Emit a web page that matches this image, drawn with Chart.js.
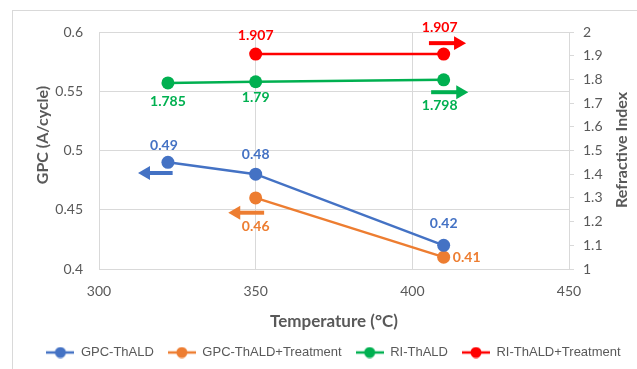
<!DOCTYPE html>
<html>
<head>
<meta charset="utf-8">
<script src="https://cdn.jsdelivr.net/npm/chart.js@4.4.0/dist/chart.umd.min.js"></script>
<style>
  html, body { margin: 0; padding: 0; background: #fff; }
  #wrap { width: 637px; height: 369px; }
</style>
</head>
<body>
<div id="wrap"><canvas id="myChart"></canvas></div>
<script>
// data
const tempGpc = [322, 350, 410];
const gpcThald = [0.49, 0.48, 0.42];
const tempGpcTreat = [350, 410];
const gpcThaldTreat = [0.46, 0.41];
const tempRi = [322, 350, 410];
const riThald = [1.785, 1.79, 1.798];
const tempRiTreat = [350, 410];
const riThaldTreat = [1.907, 1.907];

const tempTicks = [300, 350, 400, 450];
const gpcTicks = [0.4, 0.45, 0.5, 0.55, 0.6];
const riTicks = [1, 1.1, 1.2, 1.3, 1.4, 1.5, 1.6, 1.7, 1.8, 1.9, 2];

// arrows pointing at the axis each series belongs to
const arrowBlueX = [323.5, 315];
const arrowBlueY = [0.481, 0.481];
const arrowOrangeX = [352.7, 343.8];
const arrowOrangeY = [0.4475, 0.4475];
const arrowRedX = [405.3, 414.6];
const arrowRedY = [1.953, 1.953];
const arrowGreenX = [406, 415.3];
const arrowGreenY = [1.746, 1.746];

const blue = "#4472C4", orange = "#ED7D31", green = "#00B050", red = "#FF0000";
const gray = "#595959";

const pts = (xs, ys) => xs.map((x, i) => ({x: x, y: ys[i]}));

function series(label, xs, ys, color, axis, offsets) {
  return {
    label: label,
    data: pts(xs, ys),
    yAxisID: axis,
    borderColor: color,
    backgroundColor: color,
    borderWidth: 2.5,
    pointRadius: 6.5,
    pointHoverRadius: 6.5,
    pointBorderWidth: 0,
    labelOffsets: offsets,
    labelColor: color
  };
}

function arrow(xs, ys, color, axis, rot) {
  return {
    label: "",
    isArrow: true,
    data: pts(xs, ys),
    yAxisID: axis,
    borderColor: color,
    backgroundColor: color,
    borderWidth: 4,
    pointRadius: [0, 8],
    pointStyle: "triangle",
    rotation: rot,
    pointBorderWidth: 0
  };
}

// legend marker: short line with a dot
function marker(color) {
  const c = document.createElement("canvas");
  c.width = 28; c.height = 12;
  const g = c.getContext("2d");
  g.strokeStyle = color; g.lineWidth = 2.5;
  g.beginPath(); g.moveTo(0, 6); g.lineTo(28, 6); g.stroke();
  g.fillStyle = color;
  g.beginPath(); g.arc(14, 6, 5.5, 0, Math.PI * 2); g.fill();
  return c;
}

const valueLabels = {
  id: "valueLabels",
  afterDatasetsDraw(chart) {
    const ctx = chart.ctx;
    ctx.save();
    ctx.font = "bold 14px Lato";
    ctx.textAlign = "center";
    ctx.textBaseline = "middle";
    chart.data.datasets.forEach((ds, i) => {
      if (ds.isArrow) return;
      const meta = chart.getDatasetMeta(i);
      ctx.fillStyle = ds.labelColor;
      meta.data.forEach((p, j) => {
        const off = ds.labelOffsets[j];
        ctx.fillText(String(ds.data[j].y), p.x + off[0], p.y + off[1]);
      });
    });
    ctx.restore();
  }
};

const frame = {
  id: "frame",
  beforeDraw(chart) {
    const ctx = chart.ctx;
    ctx.save();
    ctx.strokeStyle = "#d9d9d9";
    ctx.lineWidth = 1;
    ctx.strokeRect(12.5, 10.5, 700, 400);
    ctx.restore();
  },
  afterDraw(chart) {
    const ctx = chart.ctx;
    const a = chart.chartArea;
    ctx.save();
    ctx.fillStyle = gray;
    ctx.font = "bold 17px Lato";
    ctx.textAlign = "center";
    ctx.textBaseline = "middle";
    ctx.fillText("Temperature (°C)", (a.left + a.right) / 2, 322);
    ctx.font = "bold 16px Lato";
    ctx.translate(43, 135);
    ctx.rotate(-Math.PI / 2);
    ctx.fillText("GPC (A/cycle)", 0, 0);
    ctx.restore();
    ctx.save();
    ctx.fillStyle = gray;
    ctx.font = "bold 16px Lato";
    ctx.textAlign = "center";
    ctx.textBaseline = "middle";
    ctx.translate(622, 150);
    ctx.rotate(-Math.PI / 2);
    ctx.fillText("Refractive Index", 0, 0);
    ctx.restore();
  }
};

const ctx = document.getElementById("myChart");

new Chart(ctx, {
  type: "line",
  data: {
    datasets: [
      series("GPC-ThALD", tempGpc, gpcThald, blue, "y", [[-4, -17], [0, -20], [0, -22]]),
      series("GPC-ThALD+Treatment", tempGpcTreat, gpcThaldTreat, orange, "y", [[0, 29], [23, 0]]),
      series("RI-ThALD", tempRi, riThald, green, "y1", [[0, 19], [0, 16], [-4, 26]]),
      series("RI-ThALD+Treatment", tempRiTreat, riThaldTreat, red, "y1", [[0, -19], [-4, -27]]),
      arrow(arrowBlueX, arrowBlueY, blue, "y", -90),
      arrow(arrowOrangeX, arrowOrangeY, orange, "y", -90),
      arrow(arrowRedX, arrowRedY, red, "y1", 90),
      arrow(arrowGreenX, arrowGreenY, green, "y1", 90)
    ]
  },
  options: {
    responsive: true,
    maintainAspectRatio: false,
    animation: false,
    layout: {padding: {left: 30, top: 32, right: 0, bottom: 0}},
    scales: {
      x: {
        type: "linear",
        min: 300,
        max: 450,
        afterBuildTicks: s => { s.ticks = tempTicks.map(v => ({value: v})); },
        afterFit: s => { s.height = 63; },
        grid: {color: "#d9d9d9", drawTicks: false},
        border: {color: "#d9d9d9"},
        ticks: {color: gray, font: {family: "Lato", size: 14}, padding: 14}
      },
      y: {
        position: "left",
        min: 0.4,
        max: 0.6,
        afterBuildTicks: s => { s.ticks = gpcTicks.map(v => ({value: v})); },
        afterFit: s => { s.width = 69; },
        grid: {color: "#d9d9d9", drawTicks: false},
        border: {color: "#d9d9d9"},
        ticks: {color: gray, font: {family: "Lato", size: 14}, padding: 16,
                callback: v => String(+v.toFixed(2))}
      },
      y1: {
        position: "right",
        min: 1,
        max: 2,
        afterBuildTicks: s => { s.ticks = riTicks.map(v => ({value: v})); },
        afterFit: s => { s.width = 68; },
        grid: {drawOnChartArea: false, color: "#d9d9d9", tickLength: 5},
        border: {color: "#d9d9d9"},
        ticks: {color: gray, font: {family: "Lato", size: 14}, padding: 9,
                callback: v => String(+v.toFixed(1))}
      }
    },
    plugins: {
      legend: {
        position: "bottom",
        labels: {
          usePointStyle: true,
          pointStyleWidth: 28,
          padding: 14,
          color: gray,
          font: {family: "Liberation Sans", size: 13},
          generateLabels: chart => chart.data.datasets
            .filter(ds => !ds.isArrow)
            .map((ds, i) => ({
              text: ds.label,
              fillStyle: ds.borderColor,
              strokeStyle: ds.borderColor,
              pointStyle: marker(ds.borderColor),
              fontColor: gray,
              datasetIndex: i,
              hidden: false,
              lineWidth: 0
            }))
        }
      },
      tooltip: {enabled: false}
    }
  },
  plugins: [valueLabels, frame]
});
</script>
</body>
</html>
